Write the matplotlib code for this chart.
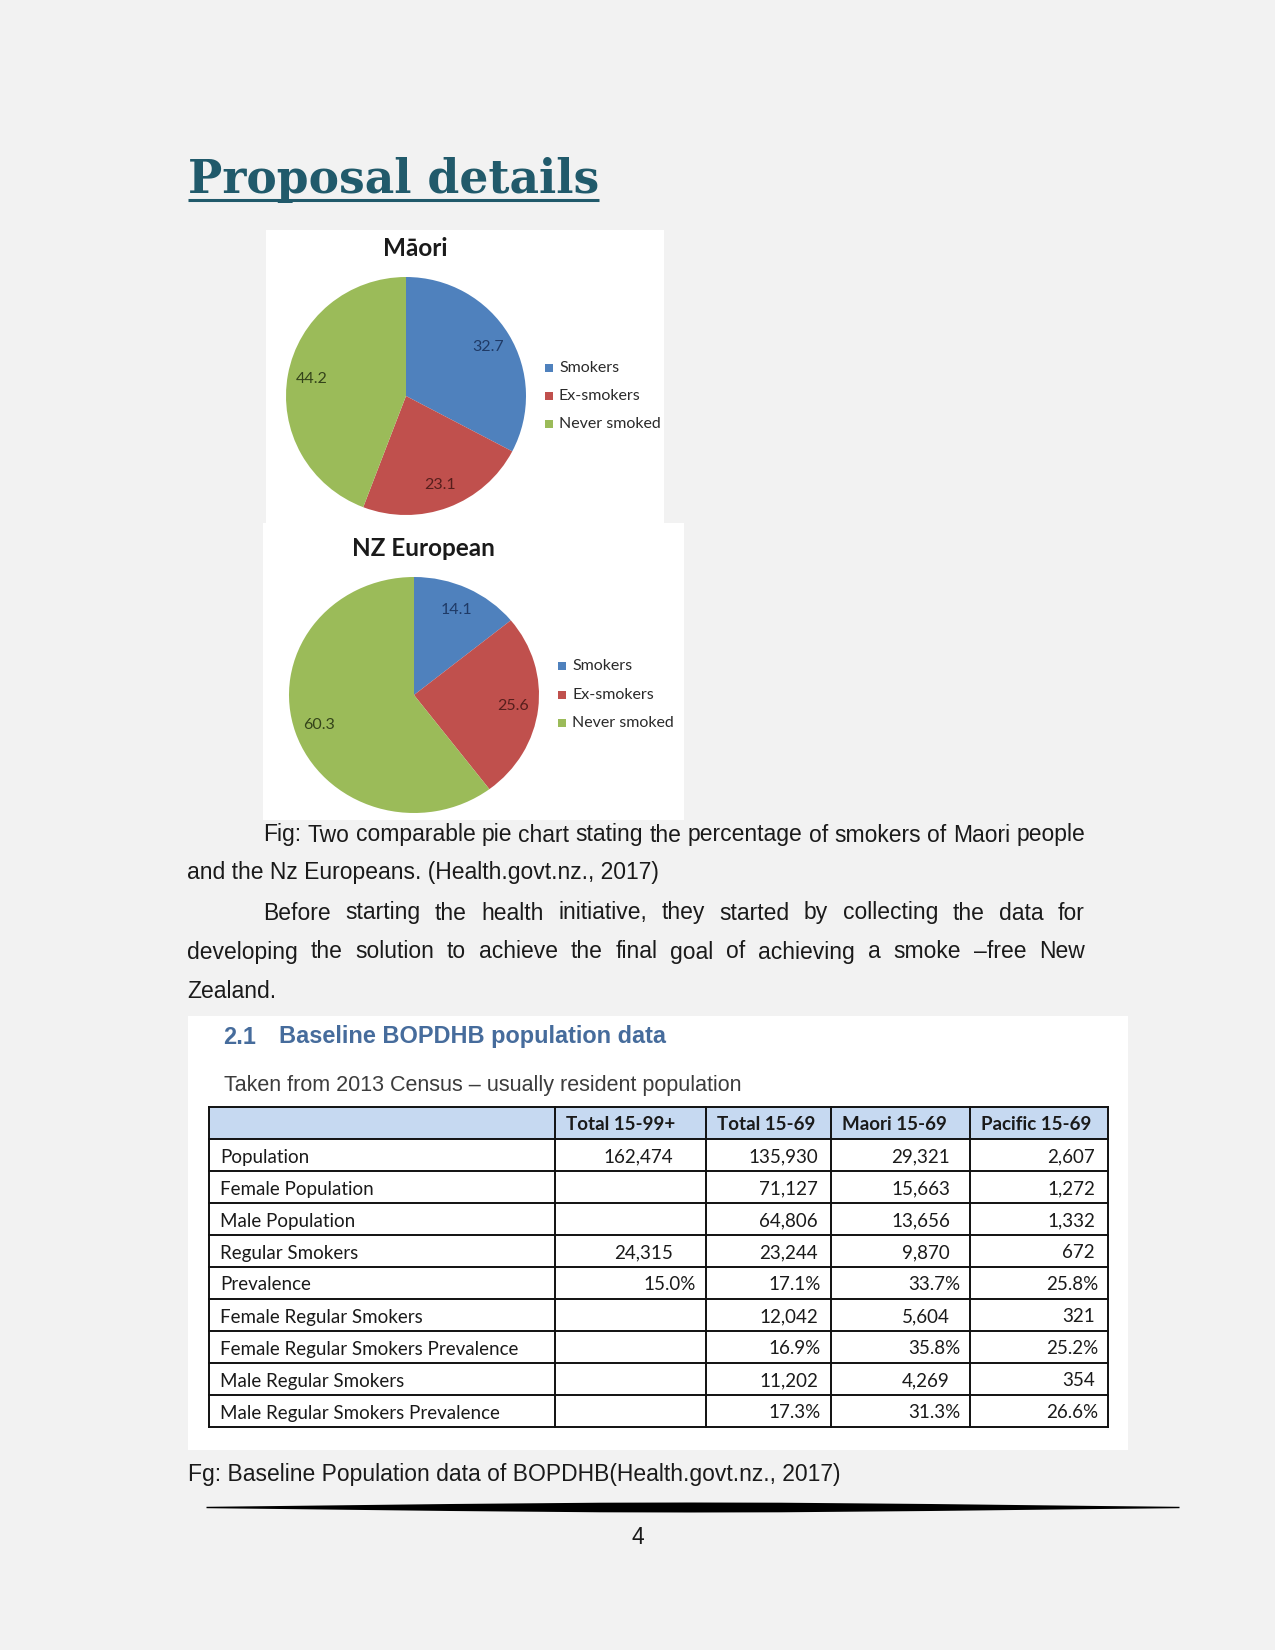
#!/usr/bin/env python3
# coding=UTF-8
"""Page with two smoking pie charts and the BOPDHB baseline table."""
import numpy as np
import matplotlib
matplotlib.use('Agg')
import matplotlib.pyplot as plt
from matplotlib import font_manager
from matplotlib.patches import Rectangle

# ---- data -------------------------------------------------------------
page_heading = 'Proposal details'

pie_categories = ['Smokers', 'Ex-smokers', 'Never smoked']
maori_pct = [32.7, 23.1, 44.2]
nz_european_pct = [14.1, 25.6, 60.3]

fig_caption = ['Fig: Two comparable pie chart stating the percentage of smokers of Maori people',
               'and the Nz Europeans. (Health.govt.nz., 2017)']
paragraph = ['Before starting the health initiative, they started by collecting the data for',
             'developing the solution to achieve the final goal of achieving a smoke \u2013free New',
             'Zealand.']

table_section = '2.1'
table_title = 'Baseline BOPDHB population data'
table_subtitle = 'Taken from 2013 Census \u2013 usually resident population'
table_columns = ['Total 15-99+', 'Total 15-69', 'Maori 15-69', 'Pacific 15-69']
table_rows = ['Population', 'Female Population', 'Male Population', 'Regular Smokers',
              'Prevalence', 'Female Regular Smokers', 'Female Regular Smokers Prevalence',
              'Male Regular Smokers', 'Male Regular Smokers Prevalence']
table_values = [
    ['162,474', '135,930', '29,321', '2,607'],
    ['', '71,127', '15,663', '1,272'],
    ['', '64,806', '13,656', '1,332'],
    ['24,315', '23,244', '9,870', '672'],
    ['15.0%', '17.1%', '33.7%', '25.8%'],
    ['', '12,042', '5,604', '321'],
    ['', '16.9%', '35.8%', '25.2%'],
    ['', '11,202', '4,269', '354'],
    ['', '17.3%', '31.3%', '26.6%'],
]
table_caption = 'Fg: Baseline Population data of BOPDHB(Health.govt.nz., 2017)'
page_number = '4'

# ---- style ------------------------------------------------------------
W, H = 1275, 1650
PAGE_BG = '#f2f2f2'
TEAL = '#215a6b'
PIE_COLORS = ['#4f81bd', '#c0504d', '#9bbb59']
PIE_LABEL_COLORS = ['#1f3a66', '#561e1c', '#34441a']


def pick(*names):
    """Return the first installed font family."""
    for name in names:
        try:
            font_manager.findfont(name, fallback_to_default=False)
            return name
        except ValueError:
            pass
    return 'DejaVu Sans'


BODY = pick('Liberation Sans', 'Arial')
CALIBRI = pick('Lato', 'Open Sans')

fig = plt.figure(figsize=(W / 100, H / 100), dpi=100, facecolor=PAGE_BG)
page = fig.add_axes([0, 0, 1, 1])
page.set_xlim(0, W)
page.set_ylim(H, 0)
page.axis('off')
renderer = fig.canvas.get_renderer()


def text_width(artist):
    return artist.get_window_extent(renderer).width


def justify(line, x0, x1, y, **kw):
    """Spread the words of a line between x0 and x1."""
    words = line.split()
    arts = [page.text(0, y, w, va='center', **kw) for w in words]
    widths = [text_width(a) for a in arts]
    gap = (x1 - x0 - sum(widths)) / max(len(words) - 1, 1)
    x = x0
    for a, w in zip(arts, widths):
        a.set_x(x)
        x += w + gap


# ---- heading ----------------------------------------------------------
head = page.text(188, 193, page_heading, fontsize=32.9, weight='bold',
                 family='DejaVu Serif', color=TEAL, va='baseline')
hw = text_width(head)
page.plot([188, 188 + hw], [200, 200], color=TEAL, lw=2.2, solid_capstyle='butt')


# ---- pies -------------------------------------------------------------
def pie_panel(values, title, panel, cx, cy, rx, ry, title_xy, leg_x, leg_ys):
    x0, y0, x1, y1 = panel
    page.add_patch(Rectangle((x0, y0), x1 - x0, y1 - y0, facecolor='white',
                             edgecolor='none'))
    ax = fig.add_axes([(cx - rx) / W, 1 - (cy + ry) / H, 2 * rx / W, 2 * ry / H])
    _, texts = ax.pie(values, colors=PIE_COLORS, startangle=90, counterclock=False,
                      labels=[f'{v:.1f}' for v in values], labeldistance=0.8,
                      wedgeprops=dict(linewidth=0),
                      textprops=dict(fontsize=11.5, family=CALIBRI))
    for t, c in zip(texts, PIE_LABEL_COLORS):
        t.set_color(c)
        t.set_ha('center')
        t.set_va('center')
    ax.set_xlim(-1, 1)
    ax.set_ylim(-1, 1)
    ax.set_aspect('auto')
    page.text(*title_xy, title, fontsize=17.5, weight='bold',
              family=[CALIBRI, 'DejaVu Sans'], color='#1a1a1a', ha='center', va='center')
    for cat, col, ly in zip(pie_categories, PIE_COLORS, leg_ys):
        page.add_patch(Rectangle((leg_x, ly - 4), 8, 8, facecolor=col, edgecolor='none'))
        page.text(leg_x + 14, ly, cat, fontsize=11.5, family=CALIBRI,
                  color='#2a2a2a', va='center')


pie_panel(maori_pct, 'M\u0101ori', (266, 230, 664, 523), 406, 396, 120, 119, (415, 248),
          545, [368, 396, 424])
pie_panel(nz_european_pct, 'NZ European', (263, 523, 684, 820), 414, 695, 125, 118,
          (423, 549), 558, [666, 695, 723])

# ---- body text --------------------------------------------------------
body = dict(fontsize=16.5, family=BODY, color='#1a1a1a')
justify(fig_caption[0], 263, 1085, 835, **body)
page.text(187, 873, fig_caption[1], va='center', **body)
justify(paragraph[0], 263, 1085, 913, **body)
justify(paragraph[1], 187, 1085, 952, **body)
page.text(187, 992, paragraph[2], va='center', **body)

# ---- table ------------------------------------------------------------
page.add_patch(Rectangle((188, 1016), 940, 434, facecolor='white', edgecolor='none'))
page.text(223, 1037, table_section, fontsize=16.9, weight='bold', family=BODY,
          color='#466c9c', va='center')
page.text(279, 1037, table_title, fontsize=16.9, weight='bold', family=BODY,
          color='#466c9c', va='center')
page.text(224, 1086, table_subtitle, fontsize=15.5, family=BODY,
          color='#3c3c3c', va='center')

col_edges = [209, 555, 706, 831, 970, 1108]
top, row_h = 1107, 32
n_lines = len(table_rows) + 1
bottom = top + row_h * n_lines
page.add_patch(Rectangle((col_edges[0], top), col_edges[-1] - col_edges[0], row_h,
                         facecolor='#c6d9f1', edgecolor='none'))
for i in range(n_lines + 1):
    page.plot([col_edges[0], col_edges[-1]], [top + i * row_h] * 2, color='#111111', lw=1.4)
for x in col_edges:
    page.plot([x, x], [top, bottom], color='#111111', lw=1.4)

cell = dict(fontsize=13.5, family=CALIBRI, color='#1a1a1a', va='center')
int_pad = [33, 13, 20, 13]
for j, col in enumerate(table_columns):
    page.text(col_edges[j + 1] + 11, top + row_h / 2 + 2, col, weight='bold', **cell)
for i, (label, vals) in enumerate(zip(table_rows, table_values)):
    yc = top + row_h * (i + 1.5) + 2
    page.text(220, yc, label, **cell)
    for j, v in enumerate(vals):
        pad = 10 if v.endswith('%') else int_pad[j]
        page.text(col_edges[j + 2] - pad, yc, v, ha='right', **cell)

page.text(188, 1474, table_caption, va='center', **body)

# ---- footer rule and page number ----------------------------------------
xs = np.array([206, 280, 450, 600, 690, 780, 930, 1100, 1179])
hs = np.array([0.7, 1.5, 3.5, 4.8, 5.0, 4.8, 3.5, 1.5, 0.7])
xx = np.linspace(206, 1179, 400)
hh = np.interp(xx, xs, hs)
page.fill_between(xx, 1507 - hh, 1507 + hh, color='black', lw=0)
page.text(638, 1538, page_number, ha='center', va='center', **body)

fig.savefig('out.png', dpi=100, facecolor=PAGE_BG)
